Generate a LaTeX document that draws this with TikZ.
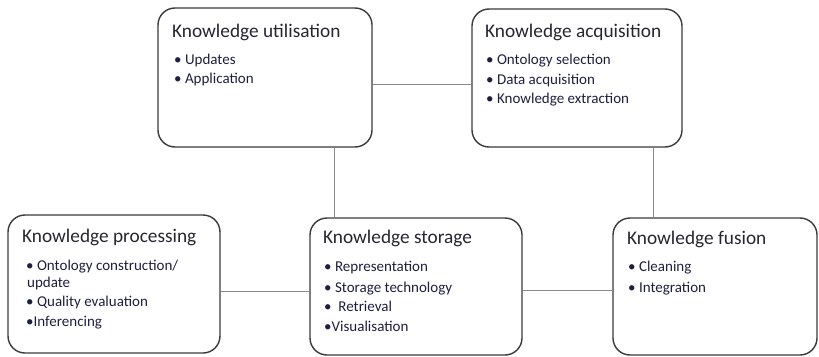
\documentclass[tikz,border=0pt]{standalone}
\usepackage{fontspec}
\setmainfont{Carlito}
\usetikzlibrary{positioning}
\begin{document}
\begin{tikzpicture}[x=1pt, y=-1pt,
  kbox/.style={draw=boxline, line width=1.4pt, rounded corners=17pt, inner sep=0pt},
  ktitle/.style={anchor=base west, inner sep=0pt, text=titletext, font=\fontsize{19.3}{23}\selectfont},
  kitem/.style={anchor=base west, inner sep=0pt, text=itemtext, font=\fontsize{15}{18}\selectfont},
  klink/.style={draw=linkgray, line width=1pt}]
\definecolor{boxline}{HTML}{3A3A3A}
\definecolor{linkgray}{HTML}{8A8A8A}
\definecolor{titletext}{HTML}{262630}
\definecolor{itemtext}{HTML}{1E1E40}
\useasboundingbox (0,0) rectangle (819,356);
\node[kbox, minimum width=214pt, minimum height=139pt] (util) at (265,77.5) {};
\node[kbox, minimum width=210pt, minimum height=138pt] (acq) at (577,78) {};
\node[kbox, minimum width=212pt, minimum height=138pt] (proc) at (114,284) {};
\node[kbox, minimum width=212pt, minimum height=137pt] (store) at (416,286.5) {};
\node[kbox, minimum width=204pt, minimum height=137pt] (fus) at (715,286.5) {};
\node[ktitle] (utilt) at (172,37) {Knowledge utilisation};
\node[kitem] (util1) at (174,64.5) {• Updates};
\node[kitem] (util2) at (174,83) {• Application};
\node[ktitle] (acqt) at (485,37) {Knowledge acquisition};
\node[kitem] (acq1) at (486,64) {• Ontology selection};
\node[kitem] (acq2) at (486,84) {• Data acquisition};
\node[kitem] (acq3) at (486,103) {• Knowledge extraction};
\node[ktitle] (proct) at (22,242.5) {Knowledge processing};
\node[kitem] (proc1) at (26,270) {• Ontology construction/};
\node[kitem] (proc2) at (27,287) {update};
\node[kitem] (proc3) at (26,306) {• Quality evaluation};
\node[kitem] (proc4) at (26,326) {•Inferencing};
\node[ktitle] (storet) at (323,243.5) {Knowledge storage};
\node[kitem] (store1) at (324,271) {• Representation};
\node[kitem] (store2) at (324,292) {• Storage technology};
\node[kitem] (store3) at (324,311) {•\ \ Retrieval};
\node[kitem] (store4) at (324,331) {•Visualisation};
\node[ktitle] (fust) at (627,244.5) {Knowledge fusion};
\node[kitem] (fus1) at (628,271) {• Cleaning};
\node[kitem] (fus2) at (628,292) {• Integration};
\draw[klink] ([yshift=-6.5pt]util.east) coordinate (ua) -- (ua -| acq.west);
\draw[klink] ([xshift=69pt]util.south) coordinate (us) -- (us |- store.north);
\draw[klink] ([xshift=76pt]acq.south) coordinate (af) -- (af |- fus.north);
\draw[klink] ([yshift=-7.5pt]proc.east) coordinate (ps) -- (ps -| store.west);
\draw[klink] ([yshift=-3.5pt]store.east) coordinate (sf) -- (sf -| fus.west);
\end{tikzpicture}
\end{document}
